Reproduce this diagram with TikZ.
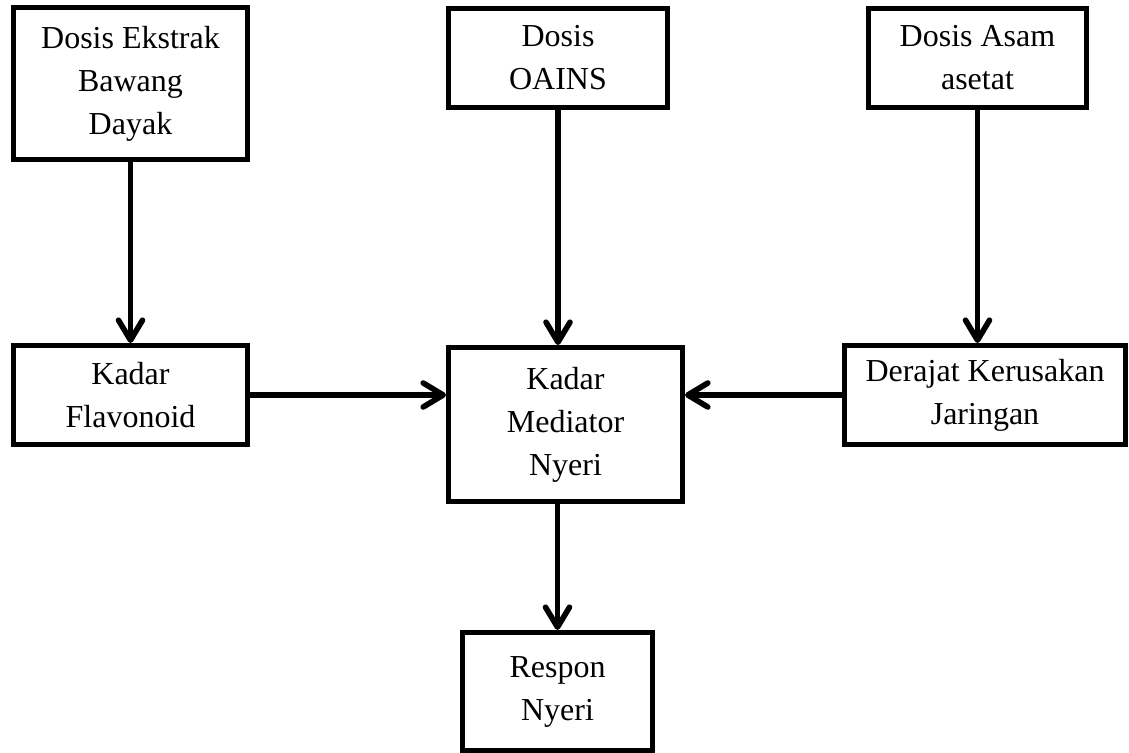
\documentclass[tikz,border=0pt]{standalone}
\usepackage{fontspec}
\setmainfont{Liberation Serif}
\usetikzlibrary{arrows.meta}
\begin{document}
\begin{tikzpicture}[x=0.5pt, y=-0.5pt]
\tikzset{ >={Straight Barb[length=10pt,width=12pt,round]},
  box/.style={draw, line width=2.5pt, align=center, inner sep=0pt,
    font=\fontsize{16}{21.5}\selectfont},
  link/.style={->, line width=2.8pt},
}

\useasboundingbox (0,0) rectangle (1129,753);

\node [box, minimum width=117pt,   minimum height=76pt]   (ekstrak)   at (130.5,84)  {Dosis Ekstrak\\Bawang\\Dayak};
\node [box, minimum width=109.5pt, minimum height=49.5pt] (oains)     at (558,58)    {Dosis\\OAINS};
\node [box, minimum width=109pt,   minimum height=49.5pt] (asam)      at (977.5,58)  {Dosis Asam\\asetat};
\node [box, minimum width=117pt,   minimum height=49.5pt] (flavonoid) at (130.5,395) {Kadar\\Flavonoid};
\node [box, minimum width=117pt,   minimum height=77pt]   (mediator)  at (565.5,424.5) {Kadar\\Mediator\\Nyeri};
\node [box, minimum width=140.5pt, minimum height=49.5pt] (kerusakan) at (985,395)   {Derajat Kerusakan\\Jaringan};
\node [box, minimum width=95pt,    minimum height=59pt]   (respon)    at (557.5,691.5) {Respon\\Nyeri};

\draw [link] (ekstrak) -- (flavonoid);
\draw [link] (oains.south) -- (oains.south |- mediator.north);
\draw [link] (asam.south) -- (asam.south |- kerusakan.north);

\draw [link] (flavonoid.east) -- (flavonoid.east -| mediator.west);
\draw [link] (kerusakan.west) -- (kerusakan.west -| mediator.east);

\draw [link] (respon.north |- mediator.south) -- (respon.north);

\end{tikzpicture}
\end{document}
